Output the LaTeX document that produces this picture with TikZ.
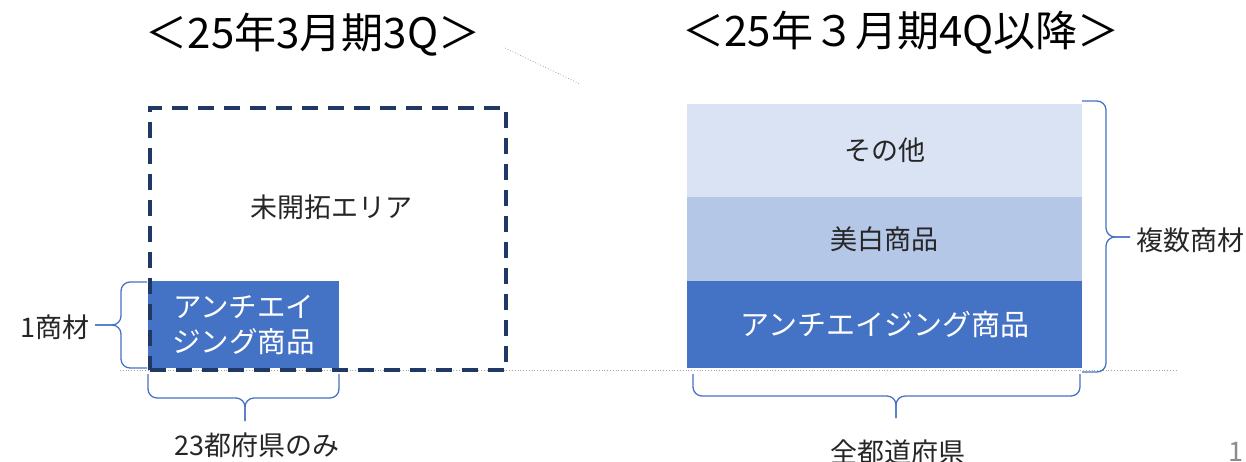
\documentclass[tikz,border=0pt]{standalone}
\usepackage{fontspec}
\setmainfont{Noto Sans CJK JP}
\definecolor{accent}{HTML}{4472C4}
\definecolor{navy}{HTML}{1F3864}
\definecolor{lightb}{HTML}{DAE3F3}
\definecolor{midb}{HTML}{B4C7E7}
\tikzset{
  title/.style={font=\fontsize{42}{46}\selectfont, inner sep=0pt},
  lbl/.style={font=\fontsize{27}{30}\selectfont, inner sep=0pt, text=black!85},
  boxtxt/.style={font=\fontsize{28.5}{35}\selectfont, inner sep=0pt, align=center},
  brc/.style={draw=accent, line width=1.3pt, rounded corners=9pt},
  dotline/.style={draw=black!35, line width=0.8pt, dotted},
}
\begin{document}
\begin{tikzpicture}[x=1pt,y=-1pt]
\useasboundingbox (0,0) rectangle (1246,461);
% titles
\node[title] (t1) at (313,35) {＜25年3月期3Q＞};
\node[title] (t2) at (901,33) {＜25年３月期4Q以降＞};
\coordinate (dl1) at (505,48);
\coordinate (dl2) at (580,84);
\draw[dotline] (dl1) -- (dl2);
% baseline
\coordinate (bl1) at (120,370);
\coordinate (bl2) at (1178,370);
\draw[dotline] (bl1) -- (bl2);
% left
\node[fill=accent, minimum width=191pt, minimum height=87pt, inner sep=0pt, anchor=north west] (anti1) at (148,281) {};
\node[boxtxt, text=white] at (anti1.center) {アンチエイ\\ジング商品};
\node[draw=navy, line width=3.5pt, dash pattern=on 16pt off 10pt, minimum width=356pt, minimum height=262pt, inner sep=0pt, anchor=north west] (area) at (148,106) {};
\node[lbl] (mk) at (331,207) {未開拓エリア};
% left brace
\node[lbl] (one) at (55,327) {1商材};
\coordinate (lbt) at (95,325);
\draw[brc] (147,282) -- (121,282) -- (121,325) -- (lbt);
\draw[brc] (lbt) -- (121,325) -- (121,368) -- (147,368);
% bottom-left brace
\node[lbl] (n23) at (257,445) {23都府県のみ};
\coordinate (bbt) at (245,421);
\draw[brc] (148,374) -- (148,398) -- (245,398) -- (bbt);
\draw[brc] (bbt) -- (245,398) -- (339,398) -- (339,374);
% right stack
\node[fill=lightb, minimum width=395pt, minimum height=93pt, inner sep=0pt, anchor=north west] (oth) at (687,104) {};
\node[fill=midb, minimum width=395pt, minimum height=84pt, inner sep=0pt, anchor=north west] (bih) at (687,197) {};
\node[fill=accent, minimum width=395pt, minimum height=87pt, inner sep=0pt, anchor=north west] (anti2) at (687,281) {};
\node[lbl] at (oth.center) {その他};
\node[lbl] at (bih.center) {美白商品};
\node[lbl, text=white, font=\fontsize{29}{32}\selectfont] at (anti2.center) {アンチエイジング商品};
% right brace
\node[lbl, anchor=west] (fuku) at (1136,240) {複数商材};
\coordinate (rbt) at (1130,237);
\draw[brc] (1082,101) -- (1106,101) -- (1106,237) -- (rbt);
\draw[brc] (rbt) -- (1106,237) -- (1106,372) -- (1082,372);
% bottom-right brace
\node[lbl] (zen) at (898,452) {全都道府県};
\coordinate (zbt) at (896,418);
\draw[brc] (693,374) -- (693,396) -- (896,396) -- (zbt);
\draw[brc] (zbt) -- (896,396) -- (1080,396) -- (1080,374);
\node[lbl, text=black!45] (pg) at (1236,452) {1};
\end{tikzpicture}
\end{document}
